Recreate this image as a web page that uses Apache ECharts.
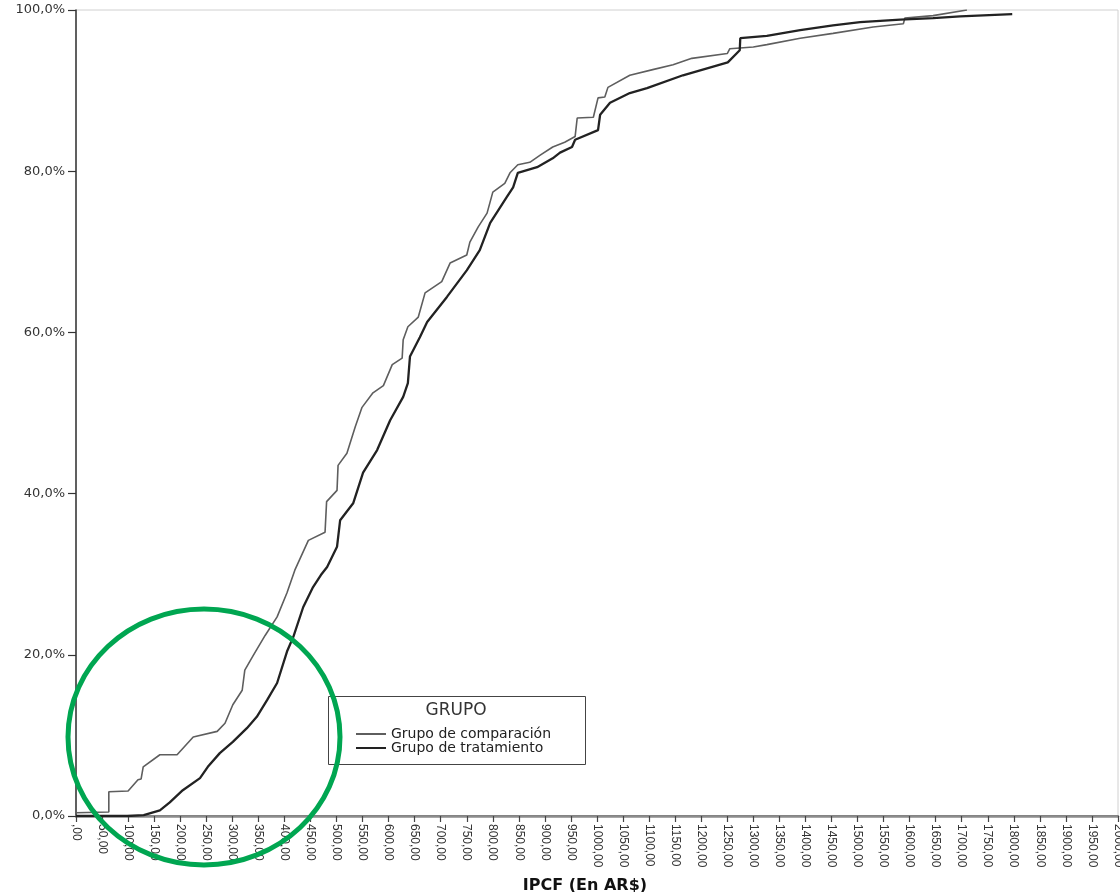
<!DOCTYPE html>
<html>
<head>
<meta charset="utf-8">
<script src="https://cdn.jsdelivr.net/npm/echarts@6/dist/echarts.min.js"></script>
<style>
html,body{margin:0;padding:0;background:#fff;}
#chart{width:1120px;height:892px;}
</style>
</head>
<body>
<div id="chart"></div>
<script>
// Series: [IPCF value, cumulative %]
var grupoComparacion = [
  [0,0.4],[63,0.5],[63,3.0],[100,3.1],[119,4.5],[125,4.6],[129,6.1],[161,7.6],[194,7.6],
  [225,9.8],[271,10.5],[286,11.5],[301,13.8],[319,15.6],[324,18.1],[340,19.9],[363,22.4],
  [386,24.7],[405,27.7],[420,30.5],[446,34.2],[478,35.2],[481,39.0],[501,40.4],[503,43.5],
  [520,45.0],[536,48.3],[549,50.7],[570,52.5],[590,53.4],[607,56.0],[626,56.8],[628,59.1],
  [637,60.7],[657,61.9],[670,64.9],[702,66.3],[718,68.6],[750,69.6],[756,71.2],[772,73.1],
  [789,74.8],[800,77.4],[823,78.5],[833,79.8],[848,80.8],[871,81.1],[891,82.0],[915,83.0],
  [938,83.6],[958,84.3],[962,86.6],[993,86.7],[1002,89.1],[1015,89.2],[1021,90.4],[1063,91.9],
  [1107,92.6],[1146,93.2],[1182,94.0],[1250,94.6],[1255,95.2],[1300,95.4],[1326,95.7],
  [1390,96.5],[1453,97.1],[1530,97.9],[1588,98.3],[1591,99.0],[1645,99.3],[1710,100]
];
var grupoTratamiento = [
  [0,0],[98,0],[130,0.1],[161,0.7],[180,1.7],[205,3.2],[238,4.7],[253,6.1],[276,7.8],
  [301,9.2],[328,10.9],[347,12.3],[367,14.4],[386,16.5],[405,20.4],[417,22.2],[436,25.9],
  [455,28.4],[470,29.9],[482,30.9],[501,33.4],[507,36.7],[532,38.8],[551,42.6],[578,45.4],
  [603,49.1],[628,52.0],[637,53.7],[641,57.0],[660,59.4],[674,61.3],[712,64.4],[750,67.7],
  [775,70.2],[795,73.6],[827,76.8],[839,78.0],[848,79.8],[885,80.5],[915,81.6],[929,82.3],
  [952,83.0],[958,83.9],[1002,85.1],[1006,87.0],[1025,88.5],[1063,89.7],[1096,90.3],
  [1165,91.9],[1251,93.5],[1274,95.0],[1275,96.5],[1326,96.8],[1390,97.5],[1453,98.1],
  [1505,98.5],[1582,98.8],[1645,99.0],[1697,99.2],[1797,99.5]
];
var seriesNames = ["Grupo de comparación","Grupo de tratamiento"];
var legendTitle = "GRUPO";
var xAxisTitle = "IPCF (En AR$)";
var xTickLabels = [",00","50,00","100,00","150,00","200,00","250,00","300,00","350,00","400,00",
  "450,00","500,00","550,00","600,00","650,00","700,00","750,00","800,00","850,00","900,00",
  "950,00","1000,00","1050,00","1100,00","1150,00","1200,00","1250,00","1300,00","1350,00",
  "1400,00","1450,00","1500,00","1550,00","1600,00","1650,00","1700,00","1750,00","1800,00",
  "1850,00","1900,00","1950,00","2000,00"];
var yTickLabels = ["0,0%","20,0%","40,0%","60,0%","80,0%","100,0%"];

var chart = echarts.init(document.getElementById('chart'), null, {renderer:'canvas'});
var option = {
  animation: false,
  backgroundColor: '#fff',
  grid: {left:76, right:2, top:10, bottom:76, outerBoundsMode:'none', containLabel:false,
    show:true, borderColor:'#d0d0d0', borderWidth:1, backgroundColor:'transparent'},
  xAxis: [{
    type:'value', min:0, max:2000, interval:50,
    name: xAxisTitle, nameLocation:'middle', nameGap:62,
    nameTextStyle:{fontFamily:'DejaVu Sans', fontWeight:'bold', fontSize:16, color:'#111', padding:[0,24,0,0]},
    axisLine:{show:true, onZero:false, lineStyle:{color:'#444', width:1.5}},
    axisTick:{show:true, length:6, lineStyle:{color:'#444', width:1.2}},
    axisLabel:{rotate:-90, margin:8, fontFamily:'Liberation Sans', fontSize:12, color:'#333',
      showMinLabel:true, showMaxLabel:true, hideOverlap:false,
      formatter:function(v){return xTickLabels[Math.round(v/50)];}},
    splitLine:{show:false}
  },{
    type:'value', min:0, max:2000, position:'top',
    axisLine:{show:true, lineStyle:{color:'#8c8c8c', width:2.5}},
    axisTick:{show:false}, axisLabel:{show:false}, splitLine:{show:false}
  }],
  yAxis: {
    type:'value', min:0, max:100, interval:20,
    axisLine:{show:true, lineStyle:{color:'#333', width:1.5}},
    axisTick:{show:true, length:8, lineStyle:{color:'#333', width:1.2}},
    axisLabel:{margin:11, fontFamily:'DejaVu Sans', fontSize:13, color:'#333',
      formatter:function(v){return yTickLabels[Math.round(v/20)];}},
    splitLine:{show:false}
  },
  legend: {
    z:10, orient:'vertical', left:355, top:727, padding:0, itemGap:0,
    itemWidth:30, itemHeight:12,
    itemStyle:{opacity:0},
    textStyle:{fontFamily:'DejaVu Sans', fontSize:14, color:'#222', lineHeight:13},
    data: seriesNames
  },
  series: [{
    name: seriesNames[0], type:'line', data: grupoComparacion, symbol:'none', showSymbol:false,
    lineStyle:{color:'#5e5e5e', width:1.6}, itemStyle:{color:'#5e5e5e'}, z:2
  },{
    name: seriesNames[1], type:'line', data: grupoTratamiento, symbol:'none', showSymbol:false,
    lineStyle:{color:'#222', width:2.3}, itemStyle:{color:'#222'}, z:3
  }],
  graphic: [
    {type:'rect', z:1, shape:{x:328.5, y:696.5, width:257, height:68}, style:{fill:'#fff', stroke:'#444', lineWidth:1}},
    {type:'text', z:11, x:456, y:711, style:{text:legendTitle, fontFamily:'DejaVu Sans', fontSize:17, fill:'#333', align:'center', verticalAlign:'middle'}},
    {type:'ellipse', z:100, shape:{cx:204, cy:737, rx:136, ry:128}, style:{fill:'none', stroke:'#00a651', lineWidth:5}}
  ]
};
chart.setOption(option);
</script>
</body>
</html>
